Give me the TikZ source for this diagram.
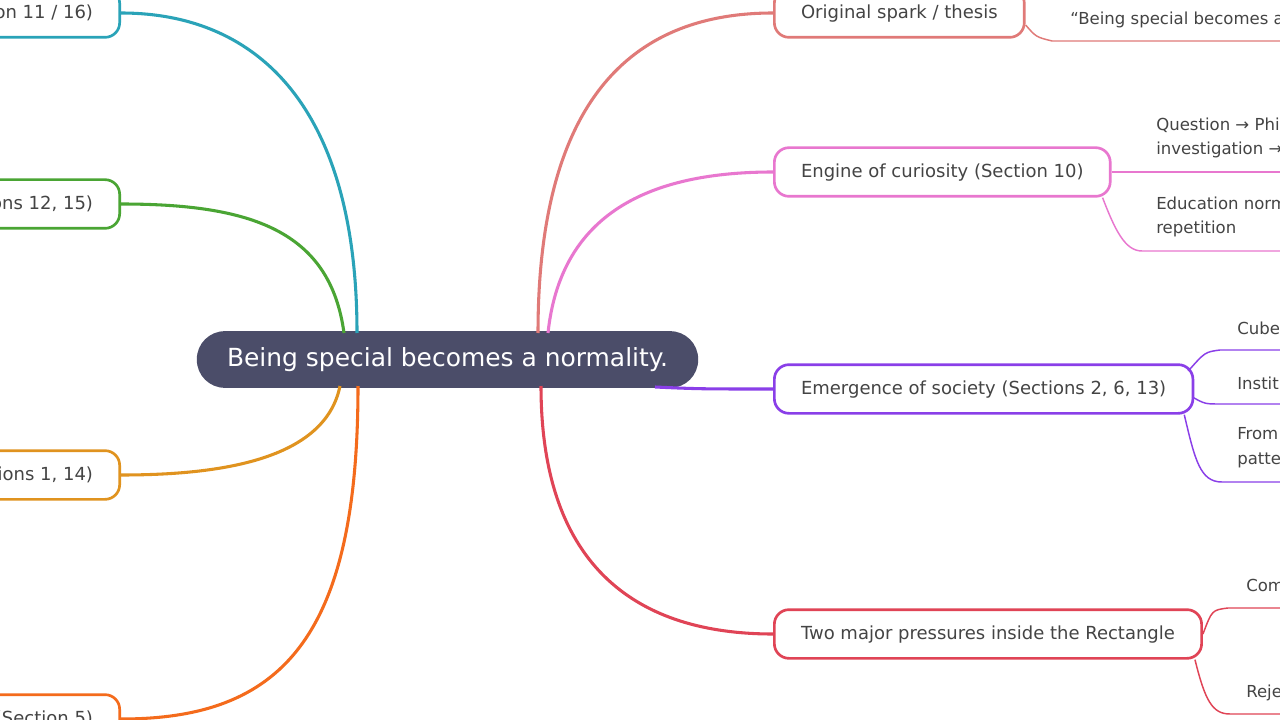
\documentclass[tikz,border=0pt]{standalone}
\usepackage{fontspec}
\setmainfont{DejaVu Sans}
\usetikzlibrary{positioning,calc}
\definecolor{txt}{HTML}{444444}
\definecolor{rootc}{HTML}{4B4D69}
\definecolor{teal}{HTML}{2AA3B8}
\definecolor{grn}{HTML}{4AA534}
\definecolor{org}{HTML}{E0931F}
\definecolor{ored}{HTML}{F46B1C}
\definecolor{salm}{HTML}{E07A78}
\definecolor{pnk}{HTML}{E877CF}
\definecolor{prp}{HTML}{8A3FE8}
\definecolor{crim}{HTML}{E04456}
\tikzset{
  topic/.style={draw=#1, line width=2pt, rounded corners=11pt, fill=white, text=txt,
    font=\fontsize{13.5}{15}\selectfont, minimum height=36.5pt, inner xsep=20pt,
    text depth=2.5pt},
  branch/.style={draw=#1, line width=2.3pt},
  twig/.style={draw=#1, line width=1.1pt},
  leaf/.style={text=txt, font=\fontsize{12.4}{18.5}\selectfont, anchor=west, align=left, inner sep=0pt}
}
\begin{document}
\begin{tikzpicture}[x=0.75pt,y=-0.75pt]
    \useasboundingbox (0,0) rectangle (1280,720);
    \clip (0,0) rectangle (1280,720);
    \fill[white] (0,0) rectangle (1280,720);

    % central topic
    \node[fill=rootc, text=white, rounded corners=21pt, minimum width=376pt, minimum height=42.5pt,
      font=\fontsize{18.7}{22}\selectfont] (root) at (447.5,359.5) {Being special becomes a normality.};

    % left topics (cut at the edge)
    \node[topic=teal, anchor=east] (sec11) at (121,13) {Section 11 / 16)};
    \node[topic=grn, anchor=east] (sec12) at (121,204) {Sections 12, 15)};
    \node[topic=org, anchor=east] (sec1) at (121,475) {Sections 1, 14)};
    \node[topic=ored, anchor=east] (sec5) at (121,719) {(Section 5)};

    % right topics
    \node[topic=salm, anchor=west] (spark) at (773,13) {Original spark / thesis};
    \node[topic=pnk, anchor=west] (engine) at (773,172) {Engine of curiosity (Section 10)};
    \node[topic=prp, anchor=west] (society) at (773,389) {Emergence of society (Sections 2, 6, 13)};
    \node[topic=crim, anchor=west] (press) at (773,634) {Two major pressures inside the Rectangle};

    % branches
    \draw[branch=teal] (357,333) .. controls (357,110) and (260,13) .. (sec11.east);
    \draw[branch=grn] (344,333) .. controls (330,230) and (250,204) .. (sec12.east);
    \draw[branch=org] (340,386) .. controls (325,460) and (220,475) .. (sec1.east);
    \draw[branch=ored] (358,386) .. controls (358,640) and (280,719) .. (sec5.east);
    \draw[branch=salm] (538,333) .. controls (538,90) and (640,13) .. (spark.west);
    \draw[branch=pnk] (548,333) .. controls (560,220) and (640,172) .. (engine.west);
    \draw[branch=prp] (655,387) .. controls (700,389) .. (society.west);
    \draw[branch=crim] (541,386) .. controls (541,570) and (640,634) .. (press.west);

    % leaves
    \node[leaf] (l1) at (1070,20) {“Being special becomes a normality.”};
    \draw[twig=salm] ($(spark.east)+(0,12)$) .. controls (1036,37) .. (1052,41) -- (1280,41);

    \node[leaf] (l2) at (1156,138) {Question → Philosophy →\\investigation → answer};
    \draw[twig=pnk] (engine.east) -- (1280,172);
    \node[leaf] (l3) at (1156,217) {Education normalizes by\\repetition};
    \draw[twig=pnk] ($(engine.south east)+(-9,0)$) .. controls (1115,230) and (1125,251) .. (1142,251) -- (1280,251);

    \node[leaf] (l4) at (1237,328) {Cubes};
    \draw[twig=prp] ($(society.east)+(-6,-18)$) .. controls (1205,352) .. (1220,350) -- (1280,350);
    \node[leaf] (l5) at (1237,383) {Institutions};
    \draw[twig=prp] ($(society.east)+(-2,8)$) .. controls (1205,404) .. (1220,404) -- (1280,404);
    \node[leaf] (l6) at (1237,448) {From\\patterns};
    \draw[twig=prp] ($(society.south east)+(-10,0)$) .. controls (1195,460) and (1200,482) .. (1222,482) -- (1280,482);

    \node[leaf] (l7) at (1246,587) {Comparison};
    \draw[twig=crim] (press.east) .. controls (1212,610) .. (1228,608) -- (1280,608);
    \node[leaf] (l8) at (1246,693) {Rejection};
    \draw[twig=crim] ($(press.south east)+(-8,0)$) .. controls (1205,700) and (1212,714) .. (1230,714) -- (1280,714);
\end{tikzpicture}
\end{document}
